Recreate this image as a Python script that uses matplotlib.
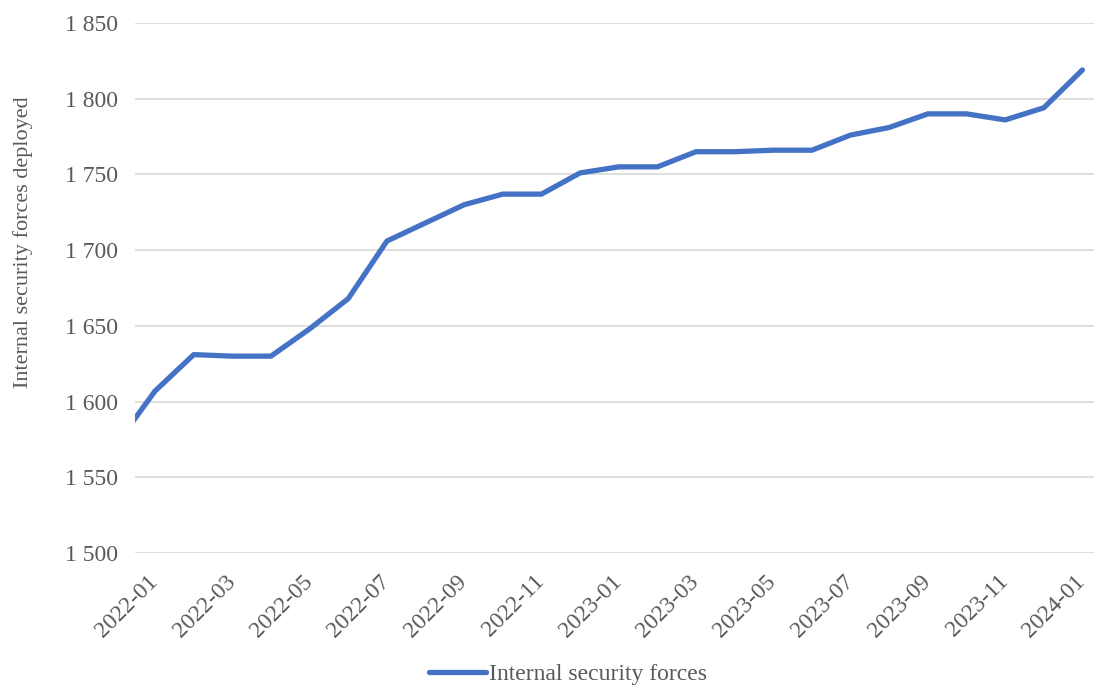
import matplotlib
matplotlib.use("Agg")
import matplotlib.pyplot as plt
from matplotlib.ticker import FuncFormatter, FixedLocator

months = ["2021-12",
          "2022-01", "2022-02", "2022-03", "2022-04", "2022-05", "2022-06",
          "2022-07", "2022-08", "2022-09", "2022-10", "2022-11", "2022-12",
          "2023-01", "2023-02", "2023-03", "2023-04", "2023-05", "2023-06",
          "2023-07", "2023-08", "2023-09", "2023-10", "2023-11", "2023-12",
          "2024-01"]
forces = [1572,
          1607, 1631, 1630, 1630, 1648, 1668,
          1706, 1718, 1730, 1737, 1737, 1751,
          1755, 1755, 1765, 1765, 1766, 1766,
          1776, 1781, 1790, 1790, 1786, 1794,
          1819]
tick_labels = months[1::2]
series_name = "Internal security forces"
y_label = "Internal security forces deployed"

plt.rcParams['font.family'] = ['Liberation Serif', 'DejaVu Serif']
gray = '#595959'

W, H = 1094, 688
fig = plt.figure(figsize=(W / 100, H / 100), dpi=100)
left, right, top, bottom = 135, 1094, 23, 553
ax = fig.add_axes([left / W, 1 - bottom / H, (right - left) / W, (bottom - top) / H])

x = list(range(-1, len(forces) - 1))
line, = ax.plot(x, forces, color='#4472C4', lw=3.8, solid_capstyle='round',
                solid_joinstyle='round', label=series_name, zorder=3)

ax.set_xlim(-0.52, 24.3)
ax.set_ylim(1500, 1850)
ax.set_yticks(range(1500, 1851, 50))
ax.yaxis.set_major_formatter(FuncFormatter(lambda v, p: f"{int(v):,}".replace(",", " ")))
# label anchors nudged left so the rotated text ends right at each month
label_shift = 0.2
tick_pos = [months.index(t) - 1 - label_shift for t in tick_labels]
ax.xaxis.set_major_locator(FixedLocator(tick_pos))
ax.set_xticklabels(tick_labels, rotation=45, ha='right', rotation_mode='anchor')

ax.grid(axis='y', color='#D9D9D9', lw=1.2)
ax.set_axisbelow(True)
for s in ax.spines.values():
    s.set_visible(False)
ax.tick_params(axis='both', length=0, labelsize=17, colors=gray)
ax.tick_params(axis='y', pad=12)
ax.tick_params(axis='x', pad=13)

fig.text(23 / W, 1 - 242 / H, y_label, rotation=90, ha='center', va='center',
         fontsize=16, color=gray)

leg = fig.legend(handles=[line], loc='center', bbox_to_anchor=(568 / W, 1 - 674 / H),
                 frameon=False, fontsize=17, handlelength=2.4, handletextpad=0.1)
for t in leg.get_texts():
    t.set_color(gray)

fig.savefig("out.png", dpi=100)
